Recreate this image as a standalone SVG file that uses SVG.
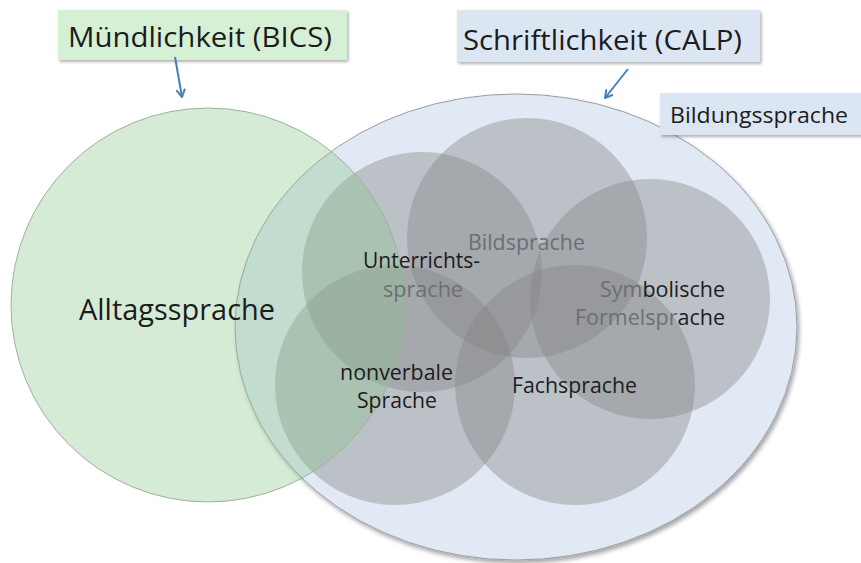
<svg xmlns="http://www.w3.org/2000/svg" width="861" height="563" viewBox="0 0 861 563">
<defs>
<filter id="sh" x="-10%" y="-10%" width="130%" height="130%"><feDropShadow dx="2" dy="3" stdDeviation="2" flood-color="#000" flood-opacity="0.35"/></filter>
<filter id="bsh" x="-10%" y="-20%" width="130%" height="150%"><feDropShadow dx="1.5" dy="2" stdDeviation="1.5" flood-color="#000" flood-opacity="0.3"/></filter>
<marker id="arr" viewBox="0 0 10 10" refX="8" refY="5" markerWidth="5" markerHeight="5" orient="auto"><path d="M1,1 L8,5 L1,9" fill="none" stroke="#4a7ebb" stroke-width="2" stroke-linecap="round" stroke-linejoin="round"/></marker>
</defs>
<style>
text{font-family:"Open Sans","Liberation Sans",sans-serif;fill:#1c1c1c;font-weight:500}
.gc{fill:#808080;fill-opacity:0.38}
.lbl{font-size:21px}
.dim{fill:#6c6f74}
.conn{stroke:#4a7ebb;stroke-width:2;fill:none;marker-end:url(#arr)}
</style>
<rect width="861" height="563" fill="#ffffff"/>
<g id="bildungssprache-area">
<ellipse cx="516" cy="327" rx="281" ry="233" fill="#e1e9f4" stroke="#9a9ea4" stroke-width="1" filter="url(#sh)"/>
</g>
<g id="circle-unterricht"><circle class="gc" cx="422" cy="272" r="120"/></g>
<g id="circle-bild"><circle class="gc" cx="527" cy="238" r="120"/></g>
<g id="circle-symbol"><circle class="gc" cx="650" cy="299" r="120"/></g>
<g id="circle-nonverbal"><circle class="gc" cx="395" cy="385" r="120"/></g>
<g id="circle-fach"><circle class="gc" cx="575" cy="385" r="120"/></g>
<g id="alltag">
<circle cx="208" cy="305" r="197" fill="rgb(138,198,138)" fill-opacity="0.35" stroke="#9fb09f" stroke-width="1"/>
<text x="79" y="320" font-size="29" textLength="196" lengthAdjust="spacingAndGlyphs">Alltagssprache</text>
</g>
<g id="labels">
<text class="lbl dim" x="468" y="250" textLength="117" lengthAdjust="spacingAndGlyphs">Bildsprache</text>
<text class="lbl" x="363" y="268" textLength="117" lengthAdjust="spacingAndGlyphs">Unterrichts-</text>
<text class="lbl dim" x="383" y="297" textLength="80" lengthAdjust="spacingAndGlyphs">sprache</text>
<text class="lbl" x="600" y="297" textLength="125" lengthAdjust="spacingAndGlyphs"><tspan class="dim">Sym</tspan>bolische</text>
<text class="lbl" x="575" y="325" textLength="150" lengthAdjust="spacingAndGlyphs"><tspan class="dim">Formelspr</tspan>ache</text>
<text class="lbl" x="340" y="380" textLength="113" lengthAdjust="spacingAndGlyphs">nonverbale</text>
<text class="lbl" x="357" y="408" textLength="80" lengthAdjust="spacingAndGlyphs">Sprache</text>
<text class="lbl" x="512" y="393" textLength="125" lengthAdjust="spacingAndGlyphs">Fachsprache</text>
</g>
<g id="box-muendlichkeit">
<rect x="58" y="10" width="289" height="50" fill="#d6f0d6" filter="url(#bsh)"/>
<text x="68" y="47" font-size="28" textLength="264" lengthAdjust="spacingAndGlyphs">Mündlichkeit (BICS)</text>
</g>
<g id="box-schriftlichkeit">
<rect x="457" y="10" width="303" height="52" fill="#dce6f2" filter="url(#bsh)"/>
<text x="463" y="50" font-size="28" textLength="279" lengthAdjust="spacingAndGlyphs">Schriftlichkeit (CALP)</text>
</g>
<g id="box-bildungssprache">
<rect x="660" y="93" width="210" height="42" fill="#dce6f2" filter="url(#bsh)"/>
<text x="670" y="123" font-size="22" textLength="178" lengthAdjust="spacingAndGlyphs">Bildungssprache</text>
</g>
<g id="connectors">
<path class="conn" d="M175,57 L182,97"/>
<path class="conn" d="M628,69 L605,98"/>
</g>
</svg>
